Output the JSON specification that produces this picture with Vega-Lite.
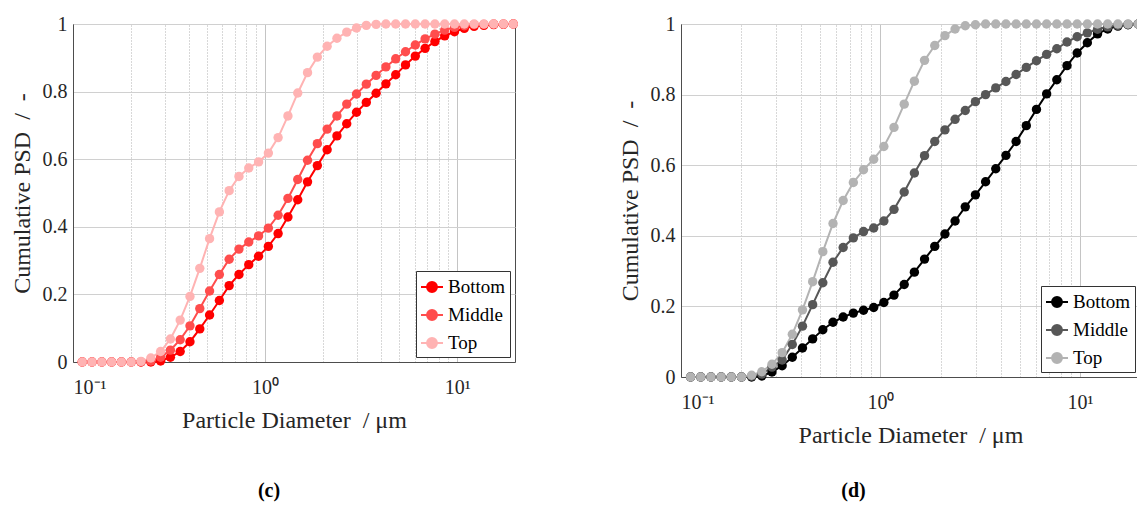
{
 "$schema": "https://vega.github.io/schema/vega-lite/v6.json",
 "background": "white",
 "padding": {"left": 9, "top": 13, "right": 0, "bottom": 0},
 "config": {
  "font": "Liberation Serif",
  "view": {"stroke": "#4d4d4d", "strokeWidth": 1},
  "axis": {"labelFont": "Liberation Serif", "labelFontSize": 20, "labelColor": "#262626", "titleFont": "Liberation Serif", "titleFontSize": 24, "titleFontWeight": "normal", "titleColor": "#262626", "domainColor": "#4d4d4d", "ticks": false, "gridColor": "#d0d0d0", "gridOpacity": 1, "labelPadding": 15},
  "legend": {"title": null, "orient": "bottom-right", "offset": 5, "strokeColor": "#333333", "fillColor": "white", "padding": 4, "labelFont": "Liberation Serif", "labelFontSize": 19, "labelColor": "black", "symbolType": "M-1,0H1M0.45,0A0.45,0.45,0,1,1,-0.45,0A0.45,0.45,0,1,1,0.45,0Z", "symbolSize": 484, "symbolStrokeWidth": 2, "rowPadding": 6, "labelOffset": 4},
  "title": {"orient": "bottom", "font": "Liberation Serif", "fontSize": 20, "fontWeight": "bold", "color": "black", "anchor": "middle", "frame": "bounds"}
 },
 "datasets": {
  "c": [
   {"x":0.1117,"s":"Bottom","y":0},{"x":0.1256,"s":"Bottom","y":0},{"x":0.1413,"s":"Bottom","y":0},{"x":0.1589,"s":"Bottom","y":0},{"x":0.1786,"s":"Bottom","y":0},{"x":0.2009,"s":"Bottom","y":0},{"x":0.2259,"s":"Bottom","y":0},{"x":0.2541,"s":"Bottom","y":0},{"x":0.2858,"s":"Bottom","y":0.003},{"x":0.3214,"s":"Bottom","y":0.014},{"x":0.3614,"s":"Bottom","y":0.031},{"x":0.4064,"s":"Bottom","y":0.06},{"x":0.4571,"s":"Bottom","y":0.098},{"x":0.514,"s":"Bottom","y":0.139},{"x":0.5781,"s":"Bottom","y":0.182},{"x":0.6501,"s":"Bottom","y":0.226},{"x":0.7311,"s":"Bottom","y":0.259},{"x":0.8222,"s":"Bottom","y":0.288},{"x":0.9247,"s":"Bottom","y":0.313},{"x":1.04,"s":"Bottom","y":0.342},{"x":1.169,"s":"Bottom","y":0.38},{"x":1.315,"s":"Bottom","y":0.429},{"x":1.479,"s":"Bottom","y":0.48},{"x":1.663,"s":"Bottom","y":0.533},{"x":1.871,"s":"Bottom","y":0.581},{"x":2.104,"s":"Bottom","y":0.628},{"x":2.366,"s":"Bottom","y":0.669},{"x":2.661,"s":"Bottom","y":0.705},{"x":2.992,"s":"Bottom","y":0.739},{"x":3.365,"s":"Bottom","y":0.768},{"x":3.784,"s":"Bottom","y":0.795},{"x":4.256,"s":"Bottom","y":0.823},{"x":4.786,"s":"Bottom","y":0.85},{"x":5.383,"s":"Bottom","y":0.879},{"x":6.053,"s":"Bottom","y":0.905},{"x":6.808,"s":"Bottom","y":0.928},{"x":7.656,"s":"Bottom","y":0.948},{"x":8.61,"s":"Bottom","y":0.965},{"x":9.683,"s":"Bottom","y":0.977},{"x":10.89,"s":"Bottom","y":0.987},{"x":12.25,"s":"Bottom","y":0.993},{"x":13.77,"s":"Bottom","y":0.996},{"x":15.49,"s":"Bottom","y":0.998},{"x":17.42,"s":"Bottom","y":0.999},{"x":19.59,"s":"Bottom","y":1},
   {"x":0.1117,"s":"Middle","y":0},{"x":0.1256,"s":"Middle","y":0},{"x":0.1413,"s":"Middle","y":0},{"x":0.1589,"s":"Middle","y":0},{"x":0.1786,"s":"Middle","y":0},{"x":0.2009,"s":"Middle","y":0},{"x":0.2259,"s":"Middle","y":0},{"x":0.2541,"s":"Middle","y":0.003},{"x":0.2858,"s":"Middle","y":0.014},{"x":0.3214,"s":"Middle","y":0.035},{"x":0.3614,"s":"Middle","y":0.066},{"x":0.4064,"s":"Middle","y":0.107},{"x":0.4571,"s":"Middle","y":0.158},{"x":0.514,"s":"Middle","y":0.21},{"x":0.5781,"s":"Middle","y":0.259},{"x":0.6501,"s":"Middle","y":0.304},{"x":0.7311,"s":"Middle","y":0.334},{"x":0.8222,"s":"Middle","y":0.355},{"x":0.9247,"s":"Middle","y":0.373},{"x":1.04,"s":"Middle","y":0.396},{"x":1.169,"s":"Middle","y":0.434},{"x":1.315,"s":"Middle","y":0.484},{"x":1.479,"s":"Middle","y":0.54},{"x":1.663,"s":"Middle","y":0.597},{"x":1.871,"s":"Middle","y":0.646},{"x":2.104,"s":"Middle","y":0.689},{"x":2.366,"s":"Middle","y":0.728},{"x":2.661,"s":"Middle","y":0.763},{"x":2.992,"s":"Middle","y":0.793},{"x":3.365,"s":"Middle","y":0.822},{"x":3.784,"s":"Middle","y":0.848},{"x":4.256,"s":"Middle","y":0.873},{"x":4.786,"s":"Middle","y":0.897},{"x":5.383,"s":"Middle","y":0.918},{"x":6.053,"s":"Middle","y":0.938},{"x":6.808,"s":"Middle","y":0.956},{"x":7.656,"s":"Middle","y":0.97},{"x":8.61,"s":"Middle","y":0.982},{"x":9.683,"s":"Middle","y":0.99},{"x":10.89,"s":"Middle","y":0.995},{"x":12.25,"s":"Middle","y":0.998},{"x":13.77,"s":"Middle","y":0.999},{"x":15.49,"s":"Middle","y":1},{"x":17.42,"s":"Middle","y":1},{"x":19.59,"s":"Middle","y":1},
   {"x":0.1117,"s":"Top","y":0},{"x":0.1256,"s":"Top","y":0},{"x":0.1413,"s":"Top","y":0},{"x":0.1589,"s":"Top","y":0},{"x":0.1786,"s":"Top","y":0},{"x":0.2009,"s":"Top","y":0},{"x":0.2259,"s":"Top","y":0.002},{"x":0.2541,"s":"Top","y":0.012},{"x":0.2858,"s":"Top","y":0.031},{"x":0.3214,"s":"Top","y":0.068},{"x":0.3614,"s":"Top","y":0.124},{"x":0.4064,"s":"Top","y":0.194},{"x":0.4571,"s":"Top","y":0.277},{"x":0.514,"s":"Top","y":0.365},{"x":0.5781,"s":"Top","y":0.444},{"x":0.6501,"s":"Top","y":0.507},{"x":0.7311,"s":"Top","y":0.549},{"x":0.8222,"s":"Top","y":0.574},{"x":0.9247,"s":"Top","y":0.592},{"x":1.04,"s":"Top","y":0.618},{"x":1.169,"s":"Top","y":0.664},{"x":1.315,"s":"Top","y":0.728},{"x":1.479,"s":"Top","y":0.796},{"x":1.663,"s":"Top","y":0.856},{"x":1.871,"s":"Top","y":0.902},{"x":2.104,"s":"Top","y":0.934},{"x":2.366,"s":"Top","y":0.958},{"x":2.661,"s":"Top","y":0.976},{"x":2.992,"s":"Top","y":0.988},{"x":3.365,"s":"Top","y":0.996},{"x":3.784,"s":"Top","y":0.999},{"x":4.256,"s":"Top","y":1},{"x":4.786,"s":"Top","y":1},{"x":5.383,"s":"Top","y":1},{"x":6.053,"s":"Top","y":1},{"x":6.808,"s":"Top","y":1},{"x":7.656,"s":"Top","y":1},{"x":8.61,"s":"Top","y":1},{"x":9.683,"s":"Top","y":1},{"x":10.89,"s":"Top","y":1},{"x":12.25,"s":"Top","y":1},{"x":13.77,"s":"Top","y":1},{"x":15.49,"s":"Top","y":1},{"x":17.42,"s":"Top","y":1},{"x":19.59,"s":"Top","y":1}
  ],
  "d": [
   {"x":0.1117,"s":"Bottom","y":0},{"x":0.1256,"s":"Bottom","y":0},{"x":0.1413,"s":"Bottom","y":0},{"x":0.1589,"s":"Bottom","y":0},{"x":0.1786,"s":"Bottom","y":0},{"x":0.2009,"s":"Bottom","y":0},{"x":0.2259,"s":"Bottom","y":0},{"x":0.2541,"s":"Bottom","y":0.003},{"x":0.2858,"s":"Bottom","y":0.014},{"x":0.3214,"s":"Bottom","y":0.032},{"x":0.3614,"s":"Bottom","y":0.056},{"x":0.4064,"s":"Bottom","y":0.082},{"x":0.4571,"s":"Bottom","y":0.108},{"x":0.514,"s":"Bottom","y":0.134},{"x":0.5781,"s":"Bottom","y":0.155},{"x":0.6501,"s":"Bottom","y":0.17},{"x":0.7311,"s":"Bottom","y":0.181},{"x":0.8222,"s":"Bottom","y":0.189},{"x":0.9247,"s":"Bottom","y":0.197},{"x":1.04,"s":"Bottom","y":0.211},{"x":1.169,"s":"Bottom","y":0.232},{"x":1.315,"s":"Bottom","y":0.262},{"x":1.479,"s":"Bottom","y":0.297},{"x":1.663,"s":"Bottom","y":0.334},{"x":1.871,"s":"Bottom","y":0.37},{"x":2.104,"s":"Bottom","y":0.405},{"x":2.366,"s":"Bottom","y":0.442},{"x":2.661,"s":"Bottom","y":0.482},{"x":2.992,"s":"Bottom","y":0.516},{"x":3.365,"s":"Bottom","y":0.553},{"x":3.784,"s":"Bottom","y":0.59},{"x":4.256,"s":"Bottom","y":0.628},{"x":4.786,"s":"Bottom","y":0.667},{"x":5.383,"s":"Bottom","y":0.712},{"x":6.053,"s":"Bottom","y":0.758},{"x":6.808,"s":"Bottom","y":0.802},{"x":7.656,"s":"Bottom","y":0.842},{"x":8.61,"s":"Bottom","y":0.882},{"x":9.683,"s":"Bottom","y":0.918},{"x":10.89,"s":"Bottom","y":0.947},{"x":12.25,"s":"Bottom","y":0.972},{"x":13.77,"s":"Bottom","y":0.986},{"x":15.49,"s":"Bottom","y":0.994},{"x":17.42,"s":"Bottom","y":0.998},{"x":19.59,"s":"Bottom","y":1},
   {"x":0.1117,"s":"Middle","y":0},{"x":0.1256,"s":"Middle","y":0},{"x":0.1413,"s":"Middle","y":0},{"x":0.1589,"s":"Middle","y":0},{"x":0.1786,"s":"Middle","y":0},{"x":0.2009,"s":"Middle","y":0},{"x":0.2259,"s":"Middle","y":0.002},{"x":0.2541,"s":"Middle","y":0.008},{"x":0.2858,"s":"Middle","y":0.028},{"x":0.3214,"s":"Middle","y":0.048},{"x":0.3614,"s":"Middle","y":0.092},{"x":0.4064,"s":"Middle","y":0.144},{"x":0.4571,"s":"Middle","y":0.205},{"x":0.514,"s":"Middle","y":0.267},{"x":0.5781,"s":"Middle","y":0.325},{"x":0.6501,"s":"Middle","y":0.367},{"x":0.7311,"s":"Middle","y":0.394},{"x":0.8222,"s":"Middle","y":0.412},{"x":0.9247,"s":"Middle","y":0.422},{"x":1.04,"s":"Middle","y":0.442},{"x":1.169,"s":"Middle","y":0.475},{"x":1.315,"s":"Middle","y":0.524},{"x":1.479,"s":"Middle","y":0.578},{"x":1.663,"s":"Middle","y":0.627},{"x":1.871,"s":"Middle","y":0.667},{"x":2.104,"s":"Middle","y":0.7},{"x":2.366,"s":"Middle","y":0.73},{"x":2.661,"s":"Middle","y":0.755},{"x":2.992,"s":"Middle","y":0.78},{"x":3.365,"s":"Middle","y":0.8},{"x":3.784,"s":"Middle","y":0.819},{"x":4.256,"s":"Middle","y":0.837},{"x":4.786,"s":"Middle","y":0.857},{"x":5.383,"s":"Middle","y":0.877},{"x":6.053,"s":"Middle","y":0.896},{"x":6.808,"s":"Middle","y":0.914},{"x":7.656,"s":"Middle","y":0.93},{"x":8.61,"s":"Middle","y":0.949},{"x":9.683,"s":"Middle","y":0.964},{"x":10.89,"s":"Middle","y":0.975},{"x":12.25,"s":"Middle","y":0.985},{"x":13.77,"s":"Middle","y":0.992},{"x":15.49,"s":"Middle","y":0.996},{"x":17.42,"s":"Middle","y":0.999},{"x":19.59,"s":"Middle","y":1},
   {"x":0.1117,"s":"Top","y":0},{"x":0.1256,"s":"Top","y":0},{"x":0.1413,"s":"Top","y":0},{"x":0.1589,"s":"Top","y":0},{"x":0.1786,"s":"Top","y":0},{"x":0.2009,"s":"Top","y":0},{"x":0.2259,"s":"Top","y":0.005},{"x":0.2541,"s":"Top","y":0.015},{"x":0.2858,"s":"Top","y":0.036},{"x":0.3214,"s":"Top","y":0.069},{"x":0.3614,"s":"Top","y":0.121},{"x":0.4064,"s":"Top","y":0.19},{"x":0.4571,"s":"Top","y":0.27},{"x":0.514,"s":"Top","y":0.355},{"x":0.5781,"s":"Top","y":0.435},{"x":0.6501,"s":"Top","y":0.5},{"x":0.7311,"s":"Top","y":0.551},{"x":0.8222,"s":"Top","y":0.587},{"x":0.9247,"s":"Top","y":0.617},{"x":1.04,"s":"Top","y":0.653},{"x":1.169,"s":"Top","y":0.707},{"x":1.315,"s":"Top","y":0.773},{"x":1.479,"s":"Top","y":0.838},{"x":1.663,"s":"Top","y":0.897},{"x":1.871,"s":"Top","y":0.939},{"x":2.104,"s":"Top","y":0.967},{"x":2.366,"s":"Top","y":0.986},{"x":2.661,"s":"Top","y":0.995},{"x":2.992,"s":"Top","y":0.998},{"x":3.365,"s":"Top","y":1},{"x":3.784,"s":"Top","y":1},{"x":4.256,"s":"Top","y":1},{"x":4.786,"s":"Top","y":1},{"x":5.383,"s":"Top","y":1},{"x":6.053,"s":"Top","y":1},{"x":6.808,"s":"Top","y":1},{"x":7.656,"s":"Top","y":1},{"x":8.61,"s":"Top","y":1},{"x":9.683,"s":"Top","y":1},{"x":10.89,"s":"Top","y":1},{"x":12.25,"s":"Top","y":1},{"x":13.77,"s":"Top","y":1},{"x":15.49,"s":"Top","y":1},{"x":17.42,"s":"Top","y":1},{"x":19.59,"s":"Top","y":1}
  ]
 },
 "resolve": {"scale": {"stroke": "independent", "fill": "independent"}, "legend": {"stroke": "independent", "fill": "independent"}},
 "spacing": 98,
 "hconcat": [
  {
   "width": 442, "height": 338,
   "data": {"name": "c"},
   "title": {"text": "(c)", "offset": 49, "dx": 5},
   "layer": [
    {"mark": {"type": "line", "strokeWidth": 2},
     "encoding": {
      "x": {"field": "x", "type": "quantitative", "scale": {"type": "log", "domain": [0.1, 20], "nice": false}, "axis": {"values": [0.1, 1, 10], "labelExpr": "datum.value < 0.5 ? '10⁻¹' : datum.value < 5 ? '10⁰' : '10¹'", "title": "Particle Diameter\u00a0 / μm", "grid": true, "gridColor": "#c4c4c4", "titlePadding": 11}},
      "y": {"field": "y", "type": "quantitative", "scale": {"domain": [0, 1], "nice": false}, "axis": {"values": [0, 0.2, 0.4, 0.6, 0.8, 1], "format": ".1~f", "title": "Cumulative PSD\u00a0 /\u00a0 -", "titlePadding": 8, "labelPadding": 6}},
      "stroke": {"field": "s", "type": "nominal", "scale": {"domain": ["Bottom", "Middle", "Top"], "range": ["#ff0000", "#ff4d4d", "#ffb3b3"]}}
     }},
    {"mark": {"type": "point", "filled": true, "size": 88, "opacity": 1},
     "encoding": {
      "x": {"field": "x", "type": "quantitative", "axis": {"orient": "top", "values": [0.2, 0.3, 0.4, 0.5, 0.6, 0.7, 0.8, 0.9, 2, 3, 4, 5, 6, 7, 8, 9], "labels": false, "domain": false, "ticks": false, "title": null, "grid": true, "gridDash": [1, 2], "gridColor": "#b0b0b0"}},
      "y": {"field": "y", "type": "quantitative"},
      "fill": {"field": "s", "type": "nominal", "scale": {"domain": ["Bottom", "Middle", "Top"], "range": ["#ff0000", "#ff4d4d", "#ffb3b3"]}}
     }}
   ],
   "resolve": {"axis": {"x": "independent"}}
  },
  {
   "width": 459, "height": 353,
   "data": {"name": "d"},
   "title": {"text": "(d)", "offset": 34, "dx": -27},
   "layer": [
    {"mark": {"type": "line", "strokeWidth": 2},
     "encoding": {
      "x": {"field": "x", "type": "quantitative", "scale": {"type": "log", "domain": [0.1, 20], "nice": false}, "axis": {"values": [0.1, 1, 10], "labelExpr": "datum.value < 0.5 ? '10⁻¹' : datum.value < 5 ? '10⁰' : '10¹'", "title": "Particle Diameter\u00a0 / μm", "grid": true, "gridColor": "#c4c4c4", "titlePadding": 11}},
      "y": {"field": "y", "type": "quantitative", "scale": {"domain": [0, 1], "nice": false}, "axis": {"values": [0, 0.2, 0.4, 0.6, 0.8, 1], "format": ".1~f", "title": "Cumulative PSD\u00a0 /\u00a0 -", "titlePadding": 8, "labelPadding": 6}},
      "stroke": {"field": "s", "type": "nominal", "scale": {"domain": ["Bottom", "Middle", "Top"], "range": ["#000000", "#575757", "#b3b3b3"]}}
     }},
    {"mark": {"type": "point", "filled": true, "size": 88, "opacity": 1},
     "encoding": {
      "x": {"field": "x", "type": "quantitative", "axis": {"orient": "top", "values": [0.2, 0.3, 0.4, 0.5, 0.6, 0.7, 0.8, 0.9, 2, 3, 4, 5, 6, 7, 8, 9], "labels": false, "domain": false, "ticks": false, "title": null, "grid": true, "gridDash": [1, 2], "gridColor": "#b0b0b0"}},
      "y": {"field": "y", "type": "quantitative"},
      "fill": {"field": "s", "type": "nominal", "scale": {"domain": ["Bottom", "Middle", "Top"], "range": ["#000000", "#575757", "#b3b3b3"]}}
     }}
   ],
   "resolve": {"axis": {"x": "independent"}}
  }
 ]
}
